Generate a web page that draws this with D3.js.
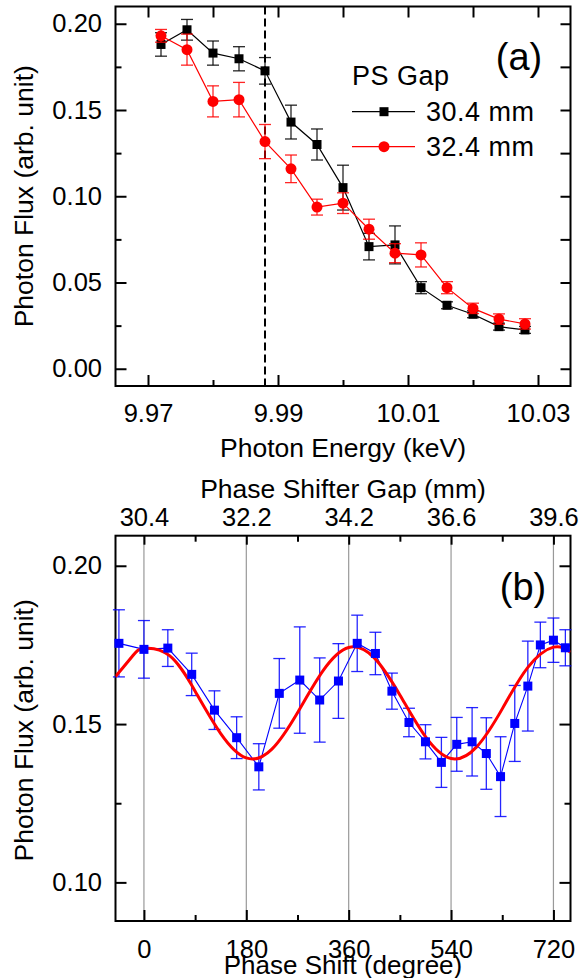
<!DOCTYPE html>
<html><head><meta charset="utf-8">
<script src="https://cdn.jsdelivr.net/npm/d3@7"></script>
<style>
body{margin:0;background:#fff}
svg{display:block}
text{font-family:"Liberation Sans",Arial,Helvetica,sans-serif;fill:#000}
</style>
</head><body>
<svg id="c" width="587" height="978"></svg>
<script>
// ---------- Panel (a) data ----------
const energy = [9.972, 9.976, 9.980, 9.984, 9.988, 9.992, 9.996, 10.000, 10.004, 10.008, 10.012, 10.016, 10.020, 10.024, 10.028];
const flux304 = [0.188, 0.1965, 0.183, 0.1797, 0.1727, 0.143, 0.130, 0.105, 0.0708, 0.0718, 0.047, 0.0368, 0.0316, 0.0244, 0.0225];
const err304  = [0.0068, 0.006, 0.007, 0.007, 0.0077, 0.0098, 0.009, 0.013, 0.0077, 0.011, 0.0035, 0.002, 0.002, 0.002, 0.002];
const flux324 = [0.193, 0.185, 0.155, 0.156, 0.1317, 0.1159, 0.0937, 0.096, 0.0809, 0.067, 0.066, 0.047, 0.035, 0.0288, 0.026];
const err324  = [0.0037, 0.009, 0.009, 0.010, 0.0099, 0.008, 0.0046, 0.006, 0.0058, 0.0055, 0.007, 0.0035, 0.003, 0.003, 0.003];
const markerEnergy = 9.988;
const seriesNamesA = ["30.4 mm", "32.4 mm"];
const legendTitleA = "PS Gap";
const xTicksA = [9.97, 9.99, 10.01, 10.03];
const xMinorA = [9.98, 10.00, 10.02];
const yTicksA = [0.00, 0.05, 0.10, 0.15, 0.20];
const yMinorA = [0.025, 0.075, 0.125, 0.175];

// ---------- Panel (b) data ----------
const phase = [-44, 0, 42, 84, 124, 163, 202, 238, 274, 309, 342, 375, 407, 436, 466, 495, 523, 550, 577, 602, 627, 652, 675, 697, 720, 741];
const fluxB = [0.1755, 0.1736, 0.174, 0.1657, 0.1544, 0.1457, 0.1365, 0.1597, 0.1639, 0.1576, 0.1636, 0.1755, 0.1723, 0.1604, 0.1505, 0.1444, 0.1379, 0.1436, 0.1444, 0.1407, 0.1334, 0.1502, 0.162, 0.175, 0.1765, 0.1741];
const errB  = [0.0106, 0.0091, 0.0058, 0.0067, 0.0061, 0.0066, 0.0073, 0.011, 0.0168, 0.0133, 0.0118, 0.0089, 0.0067, 0.0057, 0.0045, 0.0054, 0.0079, 0.0085, 0.0108, 0.0113, 0.0126, 0.012, 0.0142, 0.0072, 0.007, 0.0057];
const fitPhase = [-50, -20, 0, 45, 90, 135, 180, 225, 270, 315, 360, 405, 450, 495, 540, 585, 630, 675, 720, 750];
const fitFlux  = [0.1650, 0.1715, 0.1739, 0.1716, 0.1604, 0.1470, 0.1393, 0.1421, 0.1536, 0.1669, 0.1742, 0.1709, 0.1592, 0.1460, 0.1391, 0.1428, 0.1548, 0.1679, 0.1743, 0.1727];
const xTicksB = [0, 180, 360, 540, 720];
const xMinorB = [90, 270, 450, 630];
const gapLabels = ["30.4", "32.2", "34.2", "36.6", "39.6"];
const yTicksB = [0.10, 0.15, 0.20];
const yMinorB = [0.125, 0.175];

const svg = d3.select("#c");
const FS = 25.5;

function styleAxis(g, fs) {
  g.select(".domain").remove();
  g.selectAll(".tick line").attr("stroke", "#000").attr("stroke-width", 2);
  g.selectAll(".tick text").attr("font-size", fs).attr("font-family", "'Liberation Sans',Arial,sans-serif").attr("fill", "#000");
}

// ================= Panel (a) =================
const A = {l: 115.5, r: 570.5, t: 6.5, b: 386};
const xA = d3.scaleLinear().domain([9.965, 10.035]).range([A.l, A.r]);
const yA = d3.scaleLinear().domain([-0.01, 0.21]).range([A.b, A.t]);
const gA = svg.append("g");

gA.append("line")
  .attr("x1", xA(markerEnergy)).attr("x2", xA(markerEnergy))
  .attr("y1", A.t).attr("y2", A.b)
  .attr("stroke", "#000").attr("stroke-width", 2).attr("stroke-dasharray", "8,4");

styleAxis(gA.append("g").attr("transform", `translate(0,${A.b})`)
  .call(d3.axisBottom(xA).tickValues(xTicksA).tickSize(-11).tickPadding(18).tickFormat(d3.format(".2f"))), FS);
styleAxis(gA.append("g").attr("transform", `translate(0,${A.b})`)
  .call(d3.axisBottom(xA).tickValues(xMinorA).tickSize(-6).tickFormat("")), FS);
styleAxis(gA.append("g").attr("transform", `translate(0,${A.t})`)
  .call(d3.axisTop(xA).tickValues(xTicksA.concat(xMinorA)).tickSize(-11).tickFormat("")), FS);
styleAxis(gA.append("g").attr("transform", `translate(${A.l},0)`)
  .call(d3.axisLeft(yA).tickValues(yTicksA).tickSize(-11).tickPadding(13.5).tickFormat(d3.format(".2f"))), FS);
styleAxis(gA.append("g").attr("transform", `translate(${A.l},0)`)
  .call(d3.axisLeft(yA).tickValues(yMinorA).tickSize(-6).tickFormat("")), FS);
styleAxis(gA.append("g").attr("transform", `translate(${A.r},0)`)
  .call(d3.axisRight(yA).tickValues(yTicksA.concat(yMinorA)).tickSize(-10).tickFormat("")), FS);

gA.append("rect").attr("x", A.l).attr("y", A.t).attr("width", A.r - A.l).attr("height", A.b - A.t)
  .attr("fill", "none").attr("stroke", "#000").attr("stroke-width", 2);

function drawSeriesA(vals, errs, color, shape) {
  const pts = energy.map((e, i) => ({x: e, y: vals[i], e: errs[i]}));
  const g = gA.append("g");
  g.append("path").datum(pts)
    .attr("d", d3.line().x(d => xA(d.x)).y(d => yA(d.y)))
    .attr("fill", "none").attr("stroke", color).attr("stroke-width", 1.2);
  const eb = g.selectAll(".eb").data(pts).enter().append("g").attr("stroke", color).attr("stroke-width", 1.3).attr("stroke-opacity", 0.85);
  eb.append("line").attr("x1", d => xA(d.x)).attr("x2", d => xA(d.x)).attr("y1", d => yA(d.y - d.e)).attr("y2", d => yA(d.y + d.e));
  eb.append("line").attr("x1", d => xA(d.x) - 6).attr("x2", d => xA(d.x) + 6).attr("y1", d => yA(d.y - d.e)).attr("y2", d => yA(d.y - d.e));
  eb.append("line").attr("x1", d => xA(d.x) - 6).attr("x2", d => xA(d.x) + 6).attr("y1", d => yA(d.y + d.e)).attr("y2", d => yA(d.y + d.e));
  if (shape === "square") {
    g.selectAll(".m").data(pts).enter().append("rect")
      .attr("x", d => xA(d.x) - 4.5).attr("y", d => yA(d.y) - 4.5).attr("width", 9).attr("height", 9).attr("fill", color);
  } else {
    g.selectAll(".m").data(pts).enter().append("circle")
      .attr("cx", d => xA(d.x)).attr("cy", d => yA(d.y)).attr("r", 5.5).attr("fill", color);
  }
}
drawSeriesA(flux304, err304, "#000000", "square");
drawSeriesA(flux324, err324, "#ff0000", "circle");

gA.append("text").attr("x", 519).attr("y", 70).attr("text-anchor", "middle").attr("font-size", 38).text("(a)");
gA.append("text").attr("x", 352).attr("y", 85).attr("font-size", 27).attr("letter-spacing", 0.5).text(legendTitleA);
const legRows = [{name: seriesNamesA[0], c: "#000000", s: "square", y: 111.7}, {name: seriesNamesA[1], c: "#ff0000", s: "circle", y: 146.7}];
legRows.forEach(r => {
  gA.append("line").attr("x1", 352).attr("x2", 415).attr("y1", r.y).attr("y2", r.y).attr("stroke", r.c).attr("stroke-width", 1.2);
  if (r.s === "square") gA.append("rect").attr("x", 384 - 4.5).attr("y", r.y - 4.5).attr("width", 9).attr("height", 9).attr("fill", r.c);
  else gA.append("circle").attr("cx", 384).attr("cy", r.y).attr("r", 5.5).attr("fill", r.c);
  gA.append("text").attr("x", 426).attr("y", r.y + 9).attr("font-size", 27).attr("letter-spacing", 0.5).text(r.name);
});

gA.append("text").attr("transform", `translate(32.5,${(A.t + A.b) / 2}) rotate(-90)`).attr("text-anchor", "middle").attr("font-size", 26.5).text("Photon Flux (arb. unit)");
gA.append("text").attr("x", (A.l + A.r) / 2).attr("y", 456.5).attr("text-anchor", "middle").attr("font-size", 26.5).text("Photon Energy (keV)");

// ================= Panel (b) =================
const B = {l: 115.5, r: 570.5, t: 535.7, b: 921};
const xB = d3.scaleLinear().domain([-50, 750]).range([B.l, B.r]);
const yB = d3.scaleLinear().domain([0.0878, 0.2095]).range([B.b, B.t]);
const gB = svg.append("g");

gB.selectAll(".grid").data(xTicksB).enter().append("line")
  .attr("x1", d => xB(d)).attr("x2", d => xB(d)).attr("y1", B.t).attr("y2", B.b)
  .attr("stroke", "#999").attr("stroke-width", 1.2);

styleAxis(gB.append("g").attr("transform", `translate(0,${B.b})`)
  .call(d3.axisBottom(xB).tickValues(xTicksB).tickSize(-11).tickPadding(18.5).tickFormat(d3.format("d"))), FS);
styleAxis(gB.append("g").attr("transform", `translate(0,${B.b})`)
  .call(d3.axisBottom(xB).tickValues(xMinorB).tickSize(-6).tickFormat("")), FS);
styleAxis(gB.append("g").attr("transform", `translate(0,${B.t})`)
  .call(d3.axisTop(xB).tickValues(xTicksB).tickSize(-9).tickPadding(9.7).tickFormat((d, i) => gapLabels[i])), FS);
styleAxis(gB.append("g").attr("transform", `translate(0,${B.t})`)
  .call(d3.axisTop(xB).tickValues(xMinorB).tickSize(-6).tickFormat("")), FS);
styleAxis(gB.append("g").attr("transform", `translate(${B.l},0)`)
  .call(d3.axisLeft(yB).tickValues(yTicksB).tickSize(-11).tickPadding(13.5).tickFormat(d3.format(".2f"))), FS);
styleAxis(gB.append("g").attr("transform", `translate(${B.l},0)`)
  .call(d3.axisLeft(yB).tickValues(yMinorB).tickSize(-6).tickFormat("")), FS);
styleAxis(gB.append("g").attr("transform", `translate(${B.r},0)`)
  .call(d3.axisRight(yB).tickValues(yTicksB).tickSize(-11).tickFormat("")), FS);
styleAxis(gB.append("g").attr("transform", `translate(${B.r},0)`)
  .call(d3.axisRight(yB).tickValues(yMinorB).tickSize(-6).tickFormat("")), FS);

gB.append("rect").attr("x", B.l).attr("y", B.t).attr("width", B.r - B.l).attr("height", B.b - B.t)
  .attr("fill", "none").attr("stroke", "#000").attr("stroke-width", 2);

svg.append("defs").append("clipPath").attr("id", "clipB").append("rect")
  .attr("x", B.l).attr("y", B.t).attr("width", B.r - B.l).attr("height", B.b - B.t);

const ptsB = phase.map((p, i) => ({x: p, y: fluxB[i], e: errB[i]}));
const blue = "#0000ff";
gB.append("path").datum(ptsB)
  .attr("d", d3.line().x(d => xB(d.x)).y(d => yB(d.y)))
  .attr("fill", "none").attr("stroke", blue).attr("stroke-width", 1.1);
const ebB = gB.selectAll(".ebb").data(ptsB).enter().append("g").attr("stroke", blue).attr("stroke-width", 1.3).attr("stroke-opacity", 0.85);
ebB.append("line").attr("x1", d => xB(d.x)).attr("x2", d => xB(d.x)).attr("y1", d => yB(d.y - d.e)).attr("y2", d => yB(d.y + d.e));
ebB.append("line").attr("x1", d => xB(d.x) - 6).attr("x2", d => xB(d.x) + 6).attr("y1", d => yB(d.y - d.e)).attr("y2", d => yB(d.y - d.e));
ebB.append("line").attr("x1", d => xB(d.x) - 6).attr("x2", d => xB(d.x) + 6).attr("y1", d => yB(d.y + d.e)).attr("y2", d => yB(d.y + d.e));

const fitPts = fitPhase.map((p, i) => ({x: p, y: fitFlux[i]}));
gB.append("path").datum(fitPts).attr("clip-path", "url(#clipB)")
  .attr("d", d3.line().curve(d3.curveNatural).x(d => xB(d.x)).y(d => yB(d.y)))
  .attr("fill", "none").attr("stroke", "#ff0000").attr("stroke-width", 3);

gB.selectAll(".mb").data(ptsB).enter().append("rect")
  .attr("x", d => xB(d.x) - 4.5).attr("y", d => yB(d.y) - 4.5).attr("width", 9).attr("height", 9).attr("fill", blue);

gB.append("text").attr("x", 523).attr("y", 600).attr("text-anchor", "middle").attr("font-size", 38).text("(b)");
gB.append("text").attr("transform", `translate(32.5,${(B.t + B.b) / 2 + 2}) rotate(-90)`).attr("text-anchor", "middle").attr("font-size", 26.5).text("Photon Flux (arb. unit)");
gB.append("text").attr("x", (B.l + B.r) / 2).attr("y", 498).attr("text-anchor", "middle").attr("font-size", 26.5).text("Phase Shifter Gap (mm)");
gB.append("text").attr("x", (B.l + B.r) / 2).attr("y", 973.5).attr("text-anchor", "middle").attr("font-size", 26).text("Phase Shift (degree)");
</script>
</body></html>
